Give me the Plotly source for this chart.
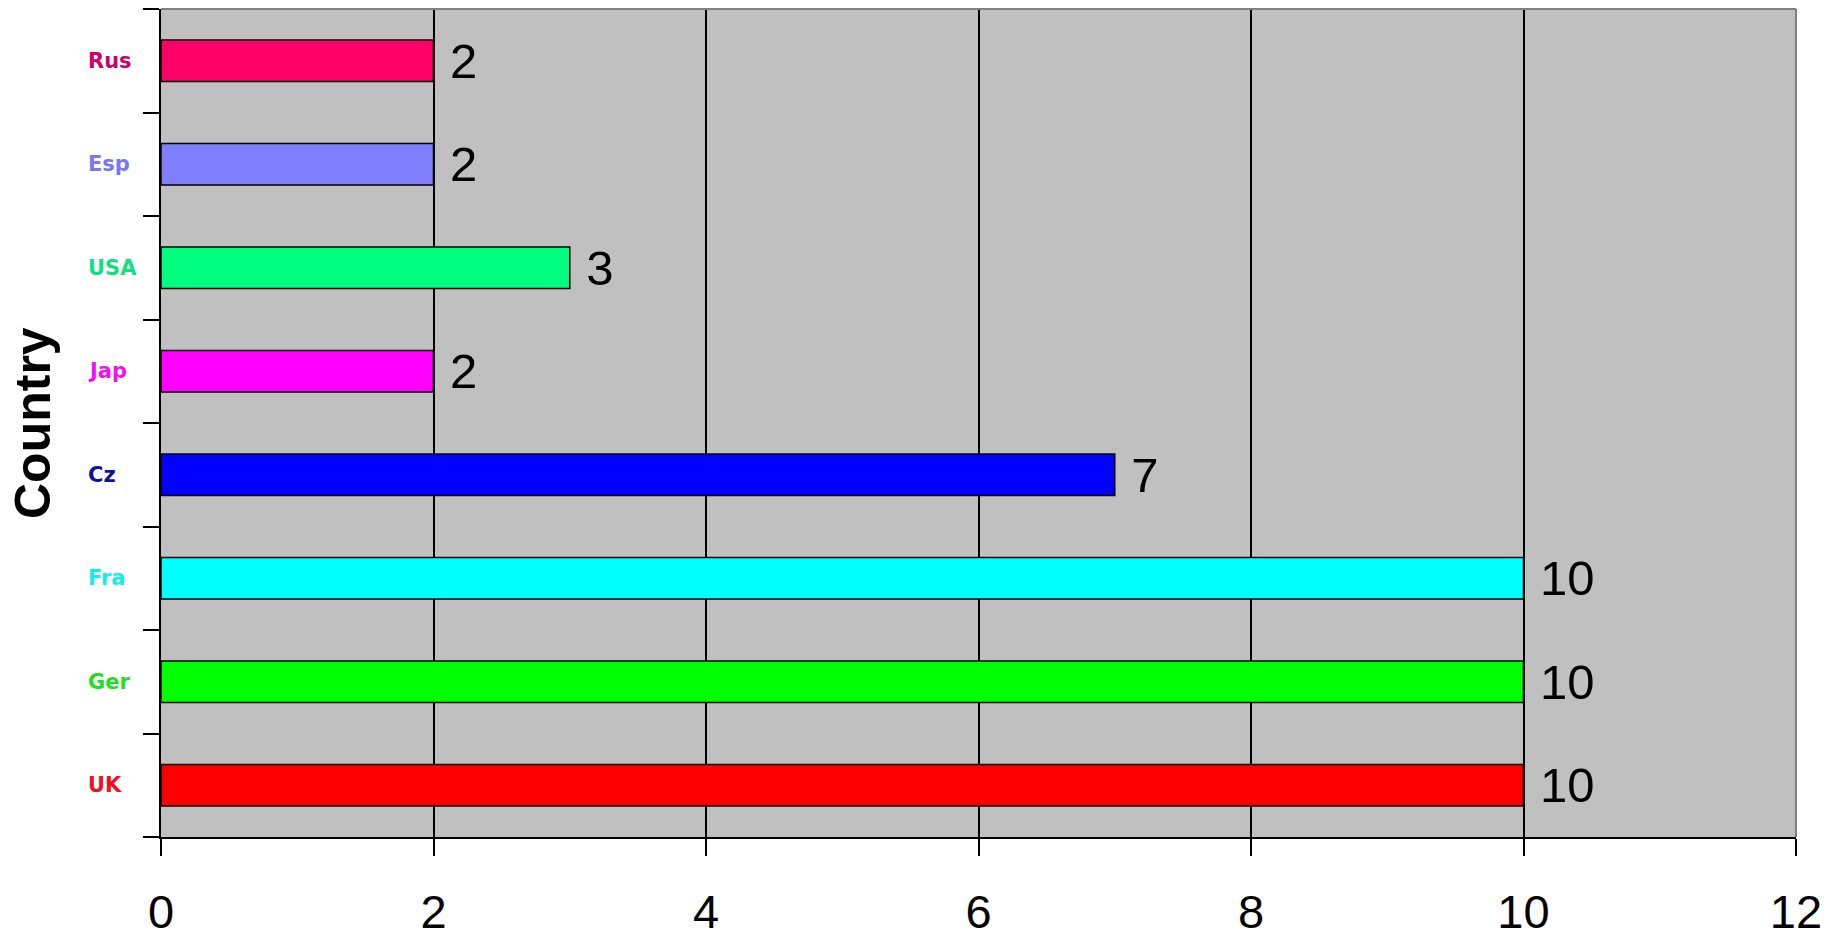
import plotly.graph_objects as go

# Data (bottom to top)
countries = ["UK", "Ger", "Fra", "Cz", "Jap", "USA", "Esp", "Rus"]
values = [10, 10, 10, 7, 2, 3, 2, 2]
bar_colors = ["#FF0000", "#00FF00", "#00FFFF", "#0000FF", "#FF00FF", "#00FF80", "#8080FF", "#FF0066"]
label_colors = ["#F01020", "#20E020", "#10F0F0", "#1010A0", "#F010F0", "#10E080", "#7878F0", "#D00066"]
x_ticks = [0, 2, 4, 6, 8, 10, 12]

W, H = 1843, 941
L, R, T, B = 161, 1796, 9, 837

fig = go.Figure()
fig.add_trace(go.Bar(
    y=countries, x=values, orientation="h",
    width=0.4,
    marker=dict(color=bar_colors, line=dict(color="black", width=1.5)),
    text=["\u00a0" + str(v) for v in values],
    textposition="outside",
    constraintext="none",
    cliponaxis=False,
    textfont=dict(family="Liberation Sans, Arial", size=49, color="black"),
    hoverinfo="skip",
))

annotations = []
for c, col in zip(countries, label_colors):
    annotations.append(dict(
        x=(86 - L) / (R - L), xref="paper", y=c, yref="y",
        text=c, showarrow=False, xanchor="left", yanchor="middle",
        font=dict(family="DejaVu Sans", size=21, color=col, weight="bold"),
    ))
annotations.append(dict(
    x=(33 - L) / (R - L), xref="paper", y=0.5, yref="paper",
    text="<b>Country</b>", showarrow=False, textangle=-90,
    xanchor="center", yanchor="middle",
    font=dict(family="Liberation Sans, Arial", size=50, color="black"),
))

fig.update_layout(
    width=W, height=H,
    margin=dict(l=L, r=W - R, t=T, b=H - B, pad=0, autoexpand=False),
    paper_bgcolor="white",
    plot_bgcolor="#C0C0C0",
    showlegend=False,
    annotations=annotations,
    shapes=[
        dict(type="line", xref="paper", yref="paper", x0=0, x1=1, y0=1, y1=1,
             line=dict(color="#808080", width=2)),
        dict(type="line", xref="paper", yref="paper", x0=1, x1=1, y0=0, y1=1,
             line=dict(color="#808080", width=2)),
    ],
    xaxis=dict(
        range=[0, 12], tickvals=x_ticks, ticktext=[str(t) for t in x_ticks],
        showgrid=True, gridcolor="black", gridwidth=1.5,
        zeroline=False, automargin=False,
        showline=True, linecolor="black", linewidth=2,
        ticks="outside", ticklen=17, tickwidth=2, tickcolor="black",
        tickfont=dict(family="Liberation Sans, Arial", size=47, color="black"),
        ticklabelstandoff=16,
        fixedrange=True,
    ),
    yaxis=dict(
        categoryorder="array", categoryarray=countries,
        range=[-0.5, 7.5], automargin=False,
        showgrid=False, zeroline=False,
        showline=True, linecolor="black", linewidth=2,
        ticks="outside", ticklen=16, tickwidth=2, tickcolor="black",
        tickson="boundaries",
        showticklabels=False,
        fixedrange=True,
    ),
)

fig.write_html("out.html")
